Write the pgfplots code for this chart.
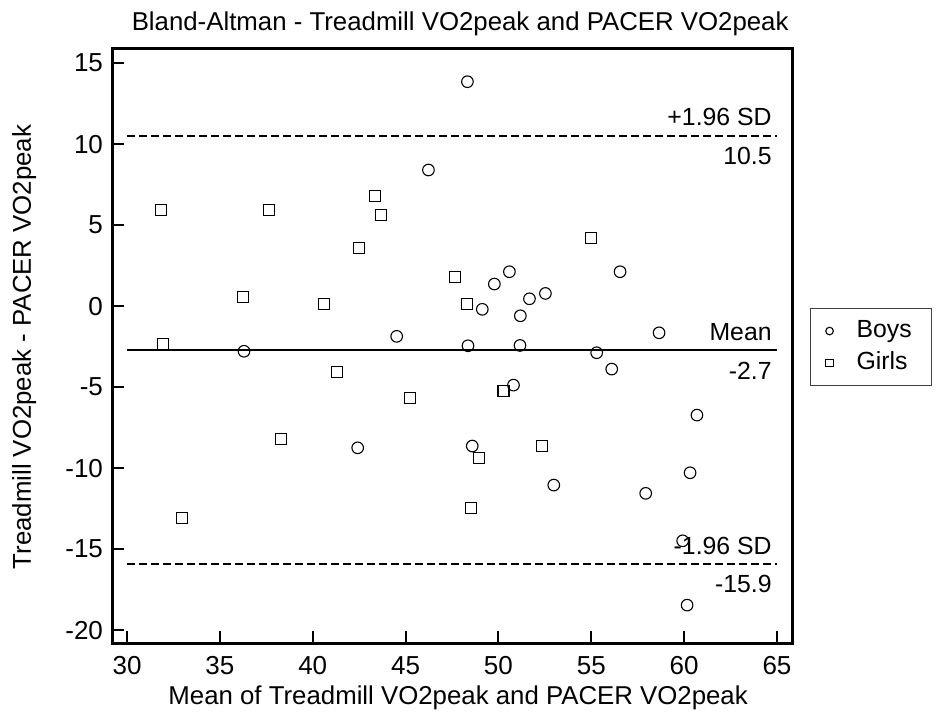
\documentclass[border=0pt]{standalone}
\usepackage{fontspec}
\setmainfont{Liberation Sans}
\usepackage{pgfplots}
\pgfplotsset{compat=1.18}

\newcommand{\fs}{\fontsize{12.4}{14.9}\selectfont}
\newcommand{\fl}{\fontsize{12.9}{15.5}\selectfont}
\newcommand{\ft}{\fontsize{13}{15.6}\selectfont}

\begin{document}
\begin{tikzpicture}
\begin{axis}[
    scale only axis,
    width=340pt, height=297.5pt,
    xmin=29.19, xmax=65.81,
    ymin=-20.8, ymax=15.93,
    xtick={30,35,...,65},
    ytick={-20,-15,...,15},
    tick pos=left,
    tick align=inside,
    major tick length=6pt,
    every tick/.style={black, line width=1pt},
    axis line style={line width=1.5pt},
    /pgf/number format/assume math mode=true,
    tick label style={font=\ft},
    yticklabel style={xshift=-1pt},
    xticklabel style={yshift=-3.2pt},
    title={Bland-Altman - Treadmill VO2peak and PACER VO2peak},
    every axis title shift=0pt,
    title style={font=\fl, at={(axis description cs:0.512,1.029)}, anchor=base, inner sep=0pt},
    xlabel={Mean of Treadmill VO2peak and PACER VO2peak},
    xlabel style={font=\fl, at={(axis description cs:0.509,-0.1025)}, anchor=base, inner sep=0pt},
    ylabel={Treadmill VO2peak - PACER VO2peak},
    ylabel style={font=\fl, at={(axis description cs:-0.1194,0.4975)}, anchor=base, inner sep=0pt},
    legend style={at={(axis description cs:1.0265,0.563)}, anchor=north west,
        draw=black!75, line width=0.5pt, inner xsep=3pt, inner ysep=3.25pt,
        row sep=0pt, font=\fs, nodes={text height=9pt, text depth=3pt, inner ysep=2pt}},
    legend cell align=left,
    legend image code/.code={%
        \path[draw=none, fill=none] (0pt,-2pt) rectangle (18pt,2pt);
        \draw[#1, mark size=1.9pt, line width=0.5pt] plot coordinates {(6.5pt,0pt)};},
]

% Boys
\addplot[only marks, black, mark=o, mark size=2.9pt, mark options={line width=0.55pt}]
coordinates {
(48.33,13.85)(46.23,8.40)(49.78,1.36)(49.13,-0.20)(44.52,-1.87)(48.36,-2.45)
(36.30,-2.79)(50.59,2.12)(56.55,2.12)(52.53,0.78)(51.67,0.45)(51.18,-0.60)
(58.65,-1.65)(51.16,-2.43)(55.29,-2.88)(56.10,-3.89)(50.81,-4.88)(60.69,-6.73)
(60.32,-10.29)(52.98,-11.05)(57.93,-11.56)(59.92,-14.49)(60.16,-18.46)
(42.42,-8.75)(48.59,-8.64)
};
\addlegendentry{\makebox[32.5pt][l]{Boys}}

% Girls
\addplot[only marks, black, mark=square, mark size=2.75pt, mark options={line width=0.55pt}]
coordinates {
(31.83,5.93)(37.65,5.93)(43.36,6.79)(43.68,5.62)(42.51,3.56)(47.66,1.81)
(36.26,0.57)(40.63,0.12)(48.31,0.12)(31.92,-2.33)(54.99,4.18)(50.27,-5.23)
(52.35,-8.64)(41.31,-4.05)(45.24,-5.70)(38.31,-8.23)(48.96,-9.40)
(32.96,-13.07)(48.51,-12.49)
};
\addlegendentry{\makebox[32.5pt][l]{Girls}}

% mean and limits of agreement
\addplot[black, line width=1pt, dash pattern=on 4pt off 2pt, forget plot] coordinates {(30,10.5)(65,10.5)};
\addplot[black, line width=1pt, forget plot] coordinates {(30,-2.7)(65,-2.7)};
\addplot[black, line width=1pt, dash pattern=on 4pt off 2pt, forget plot] coordinates {(30,-15.9)(65,-15.9)};

\node[font=\fs, anchor=east, inner sep=0pt, xshift=-2.5pt, yshift=9.5pt] at (axis cs:65,10.5) {+1.96 SD};
\node[font=\fs, anchor=east, inner sep=0pt, xshift=-2.5pt, yshift=-10pt] at (axis cs:65,10.5) {10.5};
\node[font=\fs, anchor=east, inner sep=0pt, xshift=-2.5pt, yshift=9pt] at (axis cs:65,-2.7) {Mean};
\node[font=\fs, anchor=east, inner sep=0pt, xshift=-2.5pt, yshift=-10.3pt] at (axis cs:65,-2.7) {-2.7};
\node[font=\fs, anchor=east, inner sep=0pt, xshift=-2.5pt, yshift=9pt] at (axis cs:65,-15.9) {-1.96 SD};
\node[font=\fs, anchor=east, inner sep=0pt, xshift=-2.5pt, yshift=-10.3pt] at (axis cs:65,-15.9) {-15.9};

\coordinate (bbsw) at (axis description cs:-0.1647,-0.1210);
\coordinate (bbne) at (axis description cs:1.2132,1.0807);
\end{axis}
\pgfresetboundingbox
\path[use as bounding box] (bbsw) rectangle (bbne);
\end{tikzpicture}
\end{document}
